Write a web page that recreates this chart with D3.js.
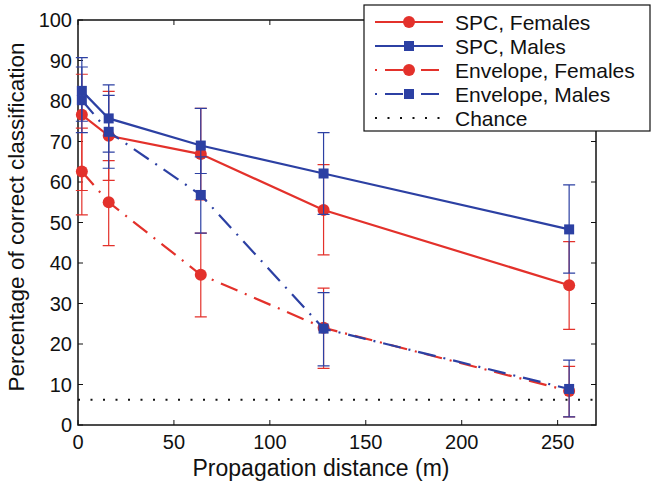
<!DOCTYPE html>
<html>
<head>
<meta charset="utf-8">
<script src="https://cdn.jsdelivr.net/npm/d3@7"></script>
<style>
  body { margin: 0; background: #fff; }
  svg text { font-family: "Liberation Sans", Arial, sans-serif; fill: #111; }
</style>
</head>
<body>
<svg id="chart" width="652" height="489"></svg>
<script>
// distances (m) of each measurement
const distances = [2, 16, 64, 128, 256]
const xTicks = [0, 50, 100, 150, 200, 250]
const yTicks = [0, 10, 20, 30, 40, 50, 60, 70, 80, 90, 100]

// values, with top / bottom of each error bar
const spcFemales = [76.6, 71.4, 66.9, 53.1, 34.5]
const spcFemalesHi = [86.6, 82.4, 78.2, 64.3, 45.3]
const spcFemalesLo = [57.9, 60.4, 55.6, 42.0, 23.6]

const spcMales = [82.5, 75.7, 69.0, 62.1, 48.3]
const spcMalesHi = [90.7, 84.0, 78.2, 72.2, 59.3]
const spcMalesLo = [75.0, 67.4, 62.1, 52.0, 37.5]

const envFemales = [62.6, 55.0, 37.1, 24.0, 8.4]
const envFemalesHi = [73.3, 65.3, 47.4, 33.8, 14.5]
const envFemalesLo = [51.9, 44.3, 26.7, 14.0, 2.0]

const envMales = [80.2, 72.4, 56.8, 23.8, 8.9]
const envMalesHi = [88.4, 81.4, 66.2, 32.7, 16.0]
const envMalesLo = [72.2, 63.4, 47.4, 14.6, 2.0]

const chance = 6.25

const red = "#e3312b"
const blue = "#2c40a3"
const dashDot = "18,8,2,8"

// series in drawing order (same as legend)
let series = [
    { name: "SPC, Females", v: spcFemales, hi: spcFemalesHi, lo: spcFemalesLo, color: red, marker: "circle", dash: null },
    { name: "SPC, Males", v: spcMales, hi: spcMalesHi, lo: spcMalesLo, color: blue, marker: "square", dash: null },
    { name: "Envelope, Females", v: envFemales, hi: envFemalesHi, lo: envFemalesLo, color: red, marker: "circle", dash: dashDot },
    { name: "Envelope, Males", v: envMales, hi: envMalesHi, lo: envMalesLo, color: blue, marker: "square", dash: dashDot }
]

let pLeft = 78, pRight = 596, pTop = 20, pBottom = 425
let x = d3.scaleLinear().domain([0, 270]).range([pLeft, pRight])
let y = d3.scaleLinear().domain([0, 100]).range([pBottom, pTop])

let svg = d3.select("#chart")

// axes box and ticks (ticks point inwards, on all four sides)
let tickLen = 5
let axes = svg.append("g")
axes.selectAll(".xt").data(xTicks).enter().append("path")
    .attr("d", d => `M${x(d)},${pBottom}v${-tickLen}M${x(d)},${pTop}v${tickLen}`)
    .attr("stroke", "#111").attr("stroke-width", 1)
axes.selectAll(".yt").data(yTicks).enter().append("path")
    .attr("d", d => `M${pLeft},${y(d)}h${tickLen}M${pRight},${y(d)}h${-tickLen}`)
    .attr("stroke", "#111").attr("stroke-width", 1)
axes.append("rect")
    .attr("x", pLeft).attr("y", pTop)
    .attr("width", pRight - pLeft).attr("height", pBottom - pTop)
    .attr("fill", "none").attr("stroke", "#111").attr("stroke-width", 1.5)

// tick labels
axes.selectAll(".xl").data(xTicks).enter().append("text")
    .attr("x", d => x(d)).attr("y", 449)
    .attr("text-anchor", "middle").attr("font-size", 20)
    .text(d => d)
axes.selectAll(".yl").data(yTicks).enter().append("text")
    .attr("x", pLeft - 6).attr("y", d => y(d) + 7)
    .attr("text-anchor", "end").attr("font-size", 20)
    .text(d => d)

// axis titles
svg.append("text")
    .attr("x", 321).attr("y", 476)
    .attr("text-anchor", "middle").attr("font-size", 23)
    .text("Propagation distance (m)")
svg.append("text")
    .attr("transform", `translate(24,217) rotate(-90)`)
    .attr("text-anchor", "middle").attr("font-size", 22.5)
    .text("Percentage of correct classification")

// chance line
svg.append("line")
    .attr("x1", x(0)).attr("x2", pRight)
    .attr("y1", y(chance)).attr("y2", y(chance))
    .attr("stroke", "#111").attr("stroke-width", 2)
    .attr("stroke-dasharray", "2,10.5")

let drawMarker = (g, kind, cx, cy, color) => {
    if (kind == "circle") {
        g.append("circle").attr("cx", cx).attr("cy", cy).attr("r", 6).attr("fill", color)
    } else {
        g.append("rect").attr("x", cx - 5).attr("y", cy - 5)
            .attr("width", 10).attr("height", 10).attr("fill", color)
    }
}

let line = d3.line().x(d => x(d[0])).y(d => y(d[1]))
let cap = 6

series.forEach(s => {
    let g = svg.append("g")
    let pts = distances.map((d, i) => [d, s.v[i], s.hi[i], s.lo[i]])
    // error bars
    g.selectAll("path.err").data(pts).enter().append("path")
        .attr("d", p => `M${x(p[0])},${y(p[2])}V${y(p[3])}` +
            `M${x(p[0]) - cap},${y(p[2])}h${2 * cap}` +
            `M${x(p[0]) - cap},${y(p[3])}h${2 * cap}`)
        .attr("fill", "none").attr("stroke", s.color).attr("stroke-width", 1.2)
    // connecting line
    g.append("path").datum(pts)
        .attr("d", line)
        .attr("fill", "none").attr("stroke", s.color).attr("stroke-width", 2.2)
        .attr("stroke-dasharray", s.dash)
    pts.forEach(p => drawMarker(g, s.marker, x(p[0]), y(p[1]), s.color))
})

// legend
let lg = svg.append("g")
lg.append("rect")
    .attr("x", 364).attr("y", 5).attr("width", 286).attr("height", 126)
    .attr("fill", "#fff").attr("stroke", "#111").attr("stroke-width", 1.2)
let legendItems = series.concat([{ name: "Chance", color: "#111", marker: null, dash: "2,10.5" }])
legendItems.forEach((s, i) => {
    let ly = 22 + i * 24
    let l = lg.append("line")
        .attr("x1", 375).attr("x2", 443).attr("y1", ly).attr("y2", ly)
        .attr("stroke", s.color).attr("stroke-width", s.marker ? 2.2 : 2)
    if (s.dash) l.attr("stroke-dasharray", s.dash == dashDot ? "2,8,18,8" : s.dash)
    if (s.marker) drawMarker(lg, s.marker, 409, ly, s.color)
    lg.append("text")
        .attr("x", 455).attr("y", ly + 7.5)
        .attr("font-size", 21)
        .text(s.name)
})
</script>
</body>
</html>
